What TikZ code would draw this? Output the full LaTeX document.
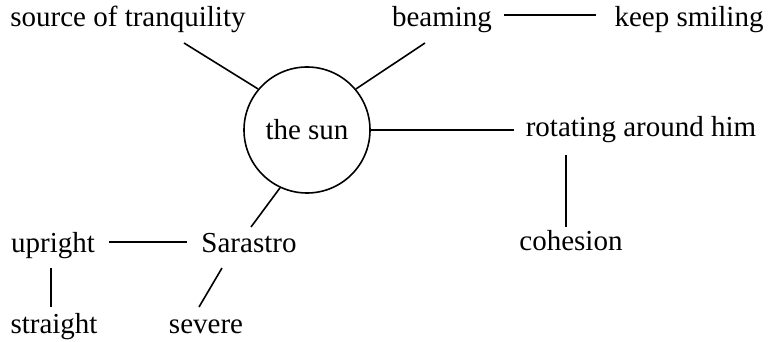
\documentclass[tikz,border=0pt]{standalone}
\usepackage{fontspec}
\setmainfont{Liberation Serif}
\usetikzlibrary{positioning,calc}

\begin{document}
\begin{tikzpicture}[x=1pt, y=-1pt,
    word/.style={font=\fontsize{29}{33}\selectfont, inner sep=0pt, anchor=base},
    hub/.style={circle, draw, line width=1.6pt, minimum size=126pt, inner sep=0pt, font=\fontsize{29}{33}\selectfont},
    link/.style={line width=1.6pt}]
    \useasboundingbox (0,0) rectangle (771,342);

    % Centre
    \node[hub] (sun) at (307,130) {the sun};
    % Words - top
    \node[word] (src) at (128,27) {source of tranquility};
    \node[word] (beam) at (442,27) {beaming};
    \node[word] (keep) at (689,27) {keep smiling};
    % Words - right
    \node[word] (rot) at (641,137) {rotating around him};
    \node[word] (coh) at (571,250) {cohesion};
    % Words - bottom left
    \node[word] (sar) at (249,252) {Sarastro};
    \node[word] (up) at (53,252) {upright};
    \node[word] (str) at (54,333) {straight};
    \node[word] (sev) at (206,333) {severe};

    % Links
    \draw[link] ([shift={(56,16)}]src.base) -- (sun.140);
    \draw[link] ([shift={(-17,16)}]beam.base) -- (sun.40);
    \draw[link] ([shift={(12,-12)}]beam.base east) -- ([shift={(-18,-12)}]keep.base west);
    \draw[link] (sun.east) -- ([shift={(-12,-7)}]rot.base west);
    \draw[link] ([shift={(-75,18)}]rot.base) -- ([shift={(-5,-23)}]coh.base);
    \draw[link] ([shift={(2,-25)}]sar.base) -- (sun.245);
    \draw[link] ([shift={(14,-10)}]up.base east) -- ([shift={(-14,-10)}]sar.base west);
    \draw[link] ([shift={(-2,16)}]up.base) -- ([shift={(-3,-26)}]str.base);
    \draw[link] ([shift={(-27,16)}]sar.base) -- ([shift={(-7,-26)}]sev.base);
\end{tikzpicture}
\end{document}
